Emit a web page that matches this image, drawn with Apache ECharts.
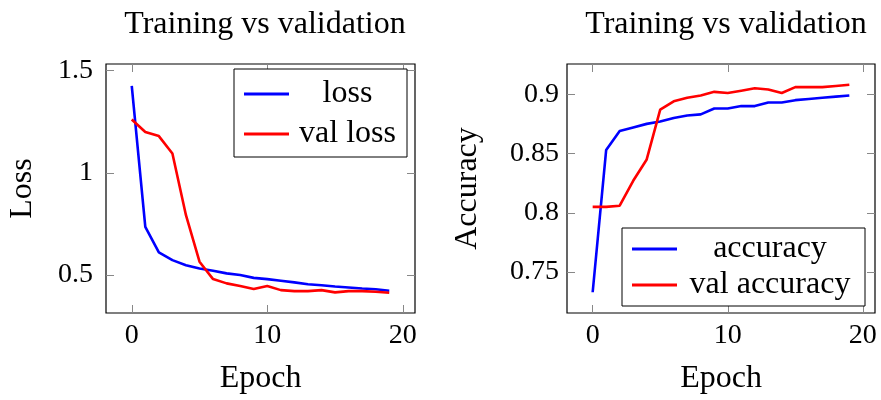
<!DOCTYPE html>
<html>
<head>
<meta charset="utf-8">
<script src="https://cdn.jsdelivr.net/npm/echarts@6/dist/echarts.min.js"></script>
<style>
  html, body { margin: 0; padding: 0; background: #fff; }
  #chart { width: 881px; height: 400px; }
</style>
</head>
<body>
<div id="chart"></div>
<script>
var epochs = [0,1,2,3,4,5,6,7,8,9,10,11,12,13,14,15,16,17,18,19];
var loss = [1.426,0.736,0.611,0.573,0.548,0.532,0.521,0.508,0.500,0.486,0.480,0.472,0.464,0.455,0.450,0.444,0.439,0.434,0.430,0.423];
var valLoss = [1.261,1.200,1.180,1.095,0.793,0.565,0.480,0.459,0.446,0.431,0.446,0.426,0.421,0.421,0.426,0.415,0.421,0.421,0.418,0.413];
var accuracy = [0.733,0.853,0.869,0.872,0.875,0.877,0.880,0.882,0.883,0.888,0.888,0.890,0.890,0.893,0.893,0.895,0.896,0.897,0.898,0.899];
var valAccuracy = [0.805,0.805,0.806,0.827,0.845,0.887,0.894,0.897,0.899,0.902,0.901,0.903,0.905,0.904,0.901,0.906,0.906,0.906,0.907,0.908];
var xTicks = [0, 10, 20];
var lossTicks = [0.5, 1, 1.5];
var accTicks = [0.75, 0.8, 0.85, 0.9];

var FONT = '"Liberation Serif", serif';
var FS = 32;     // words
var NUM = 28;    // tick numbers

function pairs(xs, ys) {
    return xs.map(function (x, i) { return [x, ys[i]]; });
}

function xAx(grid, pos, ticks, showLabel, name) {
    return {
        type: 'value', gridIndex: grid, position: pos,
        min: -1.9, max: 20.9,
        name: name || '', nameLocation: 'middle', nameGap: 50,
        nameTextStyle: { fontFamily: FONT, fontSize: FS, color: '#000' },
        axisLine: { show: false, onZero: false },
        splitLine: { show: false },
        axisTick: { show: true, inside: true, length: 8, customValues: ticks,
            lineStyle: { color: '#888', width: 1 } },
        axisLabel: { show: showLabel, customValues: ticks, margin: 9,
            fontFamily: FONT, fontSize: NUM, color: '#000' }
    };
}

function yAx(grid, pos, min, max, ticks, showLabel, name, gap, margin) {
    return {
        type: 'value', gridIndex: grid, position: pos,
        min: min, max: max,
        name: name || '', nameLocation: 'middle', nameGap: gap || 0,
        nameTextStyle: { fontFamily: FONT, fontSize: FS, color: '#000' },
        axisLine: { show: false, onZero: false },
        splitLine: { show: false },
        axisTick: { show: true, inside: true, length: 8, customValues: ticks,
            lineStyle: { color: '#888', width: 1 } },
        axisLabel: { show: showLabel, customValues: ticks, margin: margin || 10,
            fontFamily: FONT, fontSize: NUM, color: '#000' }
    };
}

function legendBox(names, left, top, textW, gap, pad) {
    return {
        data: names, orient: 'vertical', left: left, top: top,
        icon: 'rect', itemWidth: 45, itemHeight: 3, itemGap: gap, itemTextGap: 5,
        borderColor: '#000', borderWidth: 1, padding: pad,
        backgroundColor: '#fff',
        formatter: function (n) { return '{t|' + n + '}'; },
        textStyle: {
            rich: { t: { width: textW, align: 'center', lineHeight: 30,
                fontFamily: FONT, fontSize: FS, color: '#000' } }
        }
    };
}

function line(name, x, y, data, color) {
    return {
        name: name, type: 'line', xAxisIndex: x, yAxisIndex: y,
        data: data, showSymbol: false, symbol: 'none',
        lineStyle: { color: color, width: 2.6 }, itemStyle: { color: color }
    };
}

var chart = echarts.init(document.getElementById('chart'));
chart.setOption({
    animation: false,
    title: [
        { text: 'Training vs validation', left: 260, top: 4, textAlign: 'center',
          textStyle: { fontFamily: FONT, fontSize: FS, fontWeight: 'normal', color: '#000' } },
        { text: 'Training vs validation', left: 721, top: 4, textAlign: 'center',
          textStyle: { fontFamily: FONT, fontSize: FS, fontWeight: 'normal', color: '#000' } }
    ],
    grid: [
        { left: 106, top: 64, width: 309, height: 249, show: true, borderColor: '#000', borderWidth: 1.2 },
        { left: 567, top: 64, width: 308, height: 249, show: true, borderColor: '#000', borderWidth: 1.2 }
    ],
    xAxis: [
        xAx(0, 'bottom', xTicks, true, 'Epoch'),
        xAx(0, 'top', xTicks, false),
        xAx(1, 'bottom', xTicks, true, 'Epoch'),
        xAx(1, 'top', xTicks, false)
    ],
    yAxis: [
        yAx(0, 'left', 0.314, 1.533, lossTicks, true, 'Loss', 67, 13),
        yAx(0, 'right', 0.314, 1.533, lossTicks, false),
        yAx(1, 'left', 0.7155, 0.9255, accTicks, true, 'Accuracy', 83, 8),
        yAx(1, 'right', 0.7155, 0.9255, accTicks, false)
    ],
    legend: [
        legendBox(['loss', 'val loss'], 234, 69, 107, 8, [9, 6, 7, 10]),
        legendBox(['accuracy', 'val accuracy'], 622, 228, 176, 4, [5, 7, 5, 10])
    ],
    series: [
        line('loss', 0, 0, pairs(epochs, loss), '#0000ff'),
        line('val loss', 0, 0, pairs(epochs, valLoss), '#ff0000'),
        line('accuracy', 2, 2, pairs(epochs, accuracy), '#0000ff'),
        line('val accuracy', 2, 2, pairs(epochs, valAccuracy), '#ff0000')
    ]
});
</script>
</body>
</html>
